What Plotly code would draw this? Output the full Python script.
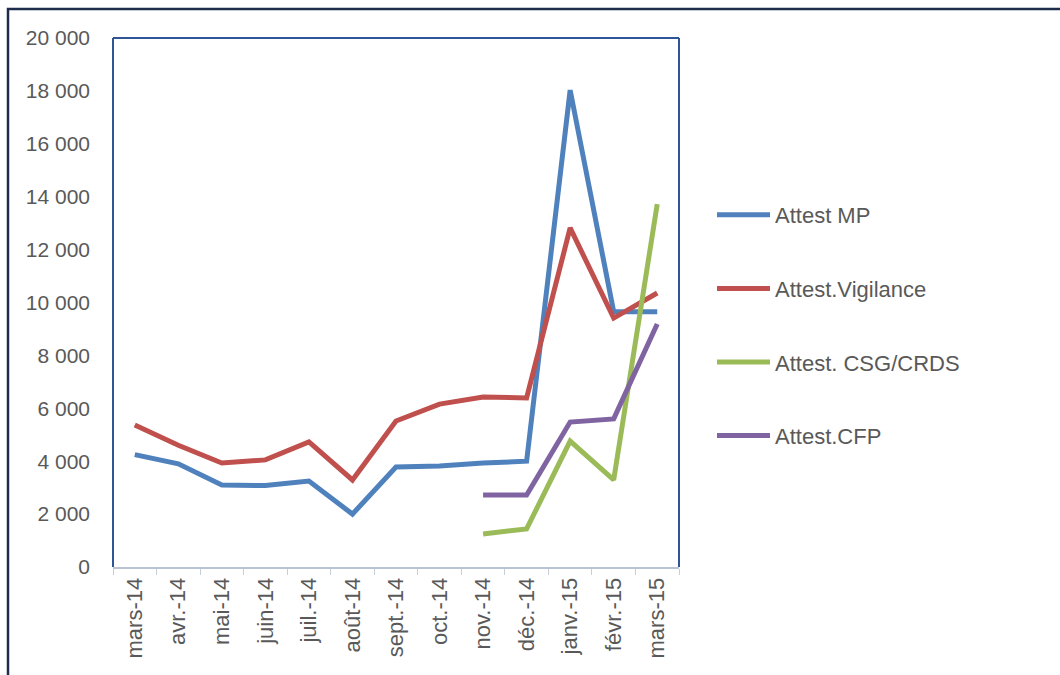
import plotly.graph_objects as go

months = ["mars-14", "avr.-14", "mai-14", "juin-14", "juil.-14", "août-14", "sept.-14",
          "oct.-14", "nov.-14", "déc.-14", "janv.-15", "févr.-15", "mars-15"]
attest_mp = [4250, 3900, 3100, 3080, 3250, 2000, 3780, 3820, 3930, 4000, 18030, 9650, 9650]
attest_vig = [5370, 4600, 3930, 4050, 4730, 3290, 5520, 6160, 6430, 6390, 12820, 9410, 10360]
attest_csg = [None, None, None, None, None, None, None, None, 1250, 1440, 4760, 3290, 13720]
attest_cfp = [None, None, None, None, None, None, None, None, 2720, 2720, 5480, 5600, 9190]

series = [
    ("Attest MP", attest_mp, "#4F81BD"),
    ("Attest.Vigilance", attest_vig, "#C0504D"),
    ("Attest. CSG/CRDS", attest_csg, "#9BBB59"),
    ("Attest.CFP", attest_cfp, "#8064A2"),
]

fig = go.Figure()
for i, (name, vals, col) in enumerate(series):
    fig.add_trace(go.Scatter(x=months, y=vals, name=name, mode="lines",
                             line=dict(color=col, width=5), legendgroup=f"g{i}",
                             connectgaps=False))

W, H = 1060, 675
l, r, t, b = 113, W - 679, 38, H - 567
pw, ph = W - l - r, H - t - b

fig.update_layout(
    width=W, height=H,
    margin=dict(l=l, r=r, t=t, b=b),
    paper_bgcolor="white", plot_bgcolor="white",
    separators=", ",
    font=dict(family="Liberation Sans, Arial, sans-serif", size=21, color="#595959"),
    showlegend=True,
    legend=dict(x=(712 - l) / pw, y=(567 - 194) / ph, xanchor="left", yanchor="top",
                font=dict(size=22, color="#595959"), tracegroupgap=42,
                bgcolor="rgba(0,0,0,0)", itemwidth=53),
    xaxis=dict(type="category", showgrid=False, showline=True, linecolor="#B9C3D3",
               linewidth=2, ticks="outside", tickson="boundaries", ticklen=6,
               tickcolor="#C8CED8", tickangle=-90, tickfont=dict(size=22, color="#595959"),
               range=[-0.5, len(months) - 0.5]),
    yaxis=dict(range=[0, 20000], dtick=2000, showgrid=False, showline=False,
               tickformat=",d", ticks="", ticklabelstandoff=22,
               tickfont=dict(size=21, color="#595959")),
    shapes=[
        dict(type="line", xref="paper", yref="paper", x0=0, x1=0, y0=0, y1=1,
             line=dict(color="#2F5597", width=2)),
        dict(type="line", xref="paper", yref="paper", x0=0, x1=1, y0=1, y1=1,
             line=dict(color="#2F5597", width=2)),
        dict(type="line", xref="paper", yref="paper", x0=1, x1=1, y0=0, y1=1,
             line=dict(color="#2F5597", width=2)),
        dict(type="rect", xref="paper", yref="paper",
             x0=(8 - l) / pw, x1=(1080 - l) / pw,
             y0=(567 - 700) / ph, y1=(567 - 9) / ph,
             line=dict(color="#1F2D4D", width=2.5), fillcolor="rgba(0,0,0,0)"),
    ],
)

fig.write_html("out.html")
